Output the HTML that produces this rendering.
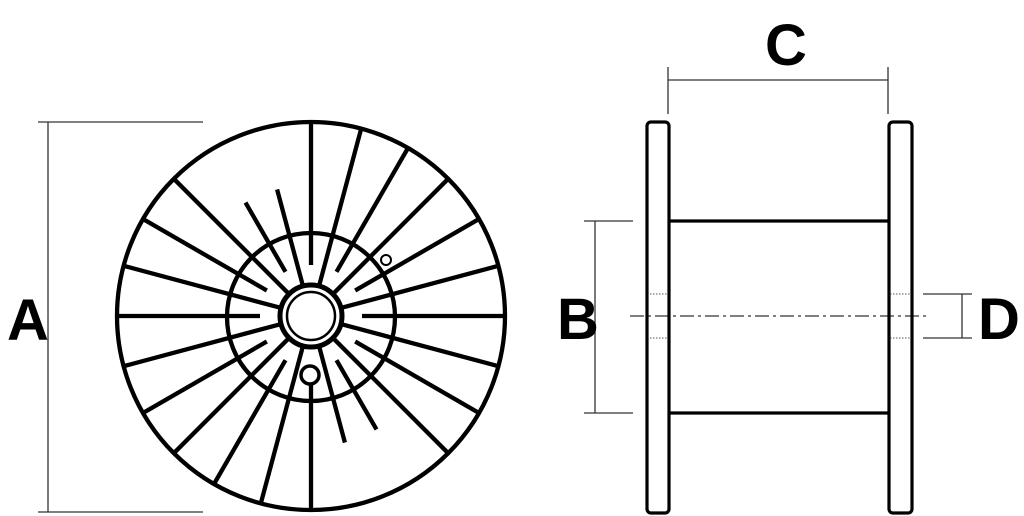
<!DOCTYPE html>
<html><head><meta charset="utf-8"><style>
html,body{margin:0;padding:0;background:#fff;width:1024px;height:516px;overflow:hidden}
text{font-family:"Liberation Sans",sans-serif;font-weight:bold;font-size:58px;fill:#000}
</style></head><body>
<svg id="s" width="1024" height="516" viewBox="0 0 1024 516" xmlns="http://www.w3.org/2000/svg">
<g stroke="#333" stroke-width="1.3" fill="none">
<line x1="38" y1="122" x2="203" y2="122"/><line x1="38" y1="512" x2="203" y2="512"/><line x1="48" y1="122" x2="48" y2="512"/>
<line x1="668" y1="67" x2="668" y2="114"/><line x1="888" y1="67" x2="888" y2="114"/><line x1="668" y1="80" x2="888" y2="80"/>
<line x1="584" y1="221" x2="633" y2="221"/><line x1="584" y1="413" x2="633" y2="413"/><line x1="595" y1="221" x2="595" y2="413"/>
<line x1="923" y1="294" x2="972" y2="294"/><line x1="923" y1="338" x2="972" y2="338"/><line x1="962" y1="294" x2="962" y2="338"/>
<line x1="630" y1="316" x2="930" y2="316" stroke-dasharray="14 4 3 4"/>
</g>
<g stroke="#555" stroke-width="1" stroke-dasharray="1.5 1.5">
<line x1="650" y1="294" x2="668" y2="294"/><line x1="650" y1="338" x2="668" y2="338"/>
<line x1="890" y1="294" x2="910" y2="294"/><line x1="890" y1="338" x2="910" y2="338"/>
</g>
<g stroke="#000" stroke-width="3.2" fill="none">
<rect x="647" y="122" width="22" height="391" rx="4"/>
<rect x="889" y="122" width="23" height="391" rx="4"/>
<line x1="669" y1="221" x2="889" y2="221"/><line x1="669" y1="413" x2="889" y2="413"/>
</g>
<g id="w" stroke="#000" stroke-width="4.3" fill="none">
<circle cx="311" cy="316" r="194"/>
<circle cx="311" cy="317" r="84"/>
<circle cx="311" cy="316" r="31" stroke-width="5"/>
<circle cx="311" cy="316" r="24" stroke-width="2.5"/>
<circle cx="386" cy="260" r="5" stroke-width="2"/>
<circle cx="310" cy="375" r="9" stroke-width="3.5"/>
</g>
<text x="7" y="340">A</text>
<text x="557" y="339">B</text>
<text x="765" y="65">C</text>
<text x="978" y="339">D</text>
</svg>
<script>
var g=document.getElementById('w'),cx=311,cy=316;
for(var k=0;k<24;k++){var a=k*15,r1=194,r0=(k%2==0)?51:31;
if(a==105||a==120||a==285||a==300){r1=131;}
if(a==270){r0=68;}
var t=a*Math.PI/180,c=Math.cos(t),s=-Math.sin(t);
var l=document.createElementNS('http://www.w3.org/2000/svg','line');
l.setAttribute('x1',cx+r0*c);l.setAttribute('y1',cy+r0*s);l.setAttribute('x2',cx+r1*c);l.setAttribute('y2',cy+r1*s);
g.appendChild(l);}
</script>
</body></html>
